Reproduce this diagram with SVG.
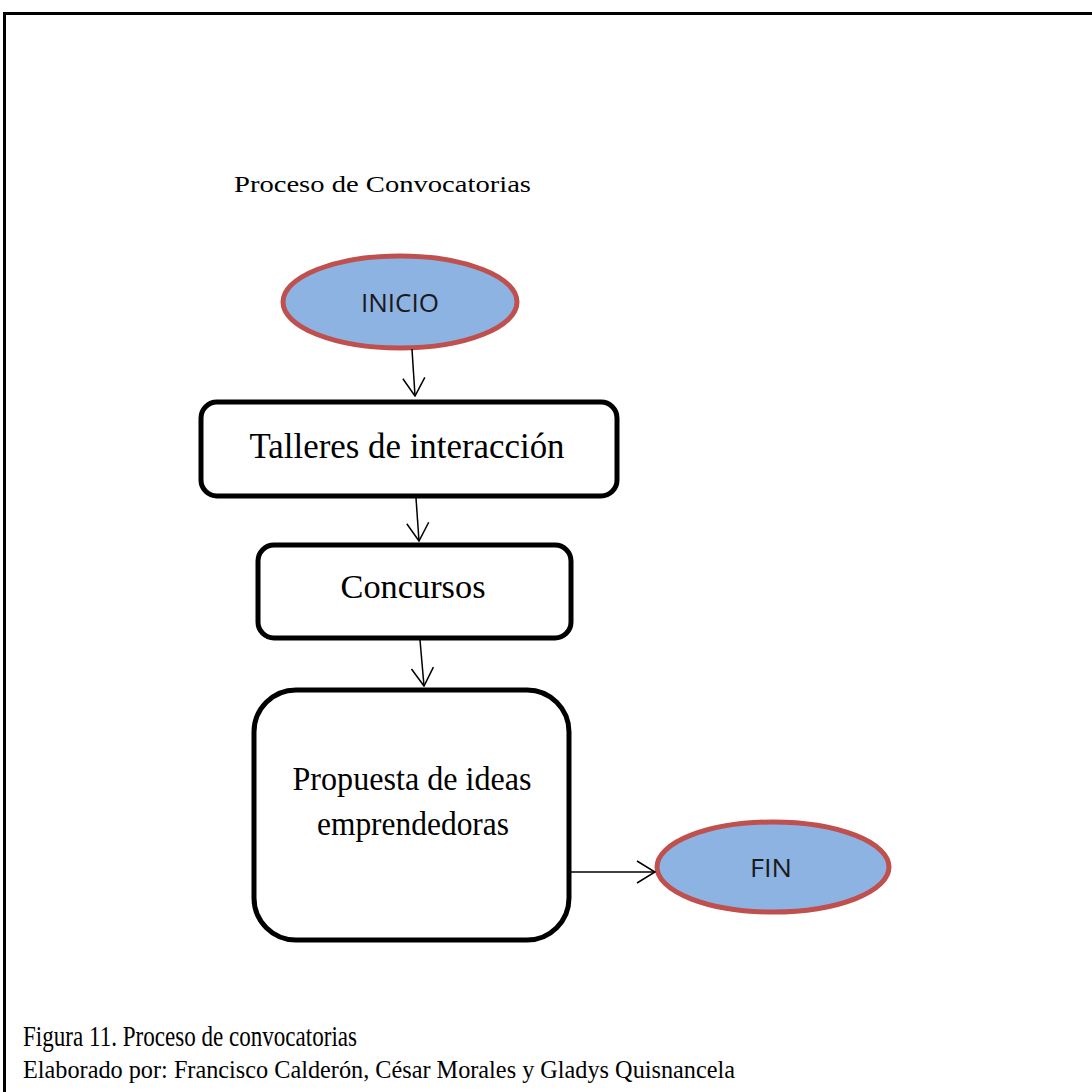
<svg xmlns="http://www.w3.org/2000/svg" width="1092" height="1092" viewBox="0 0 1092 1092">
<style>
.serif{font-family:"Liberation Serif","Times New Roman",serif;fill:#000}
.sans{font-family:"Open Sans","Noto Sans","Liberation Sans",sans-serif;fill:#1a1a1a}
.ell{fill:#8DB3E2;stroke:#C0504D;stroke-width:5}
.box{fill:#fff;stroke:#000;stroke-width:5}
.conn{stroke:#000;stroke-width:1.5;fill:none}
</style>
<defs>
<marker id="arr" viewBox="0 0 20 24" refX="19" refY="12" markerWidth="20" markerHeight="24" markerUnits="userSpaceOnUse" orient="auto">
<path d="M1,1 L19,12 L1,23" fill="none" stroke="#000" stroke-width="1.5"/>
</marker>
</defs>
<rect width="1092" height="1092" fill="#fff"/>
<path d="M4.5,1092 V13.5 H1092" fill="none" stroke="#000" stroke-width="3"/>
<text class="serif" x="234" y="192" font-size="23" textLength="297" lengthAdjust="spacingAndGlyphs">Proceso de Convocatorias</text>
<g id="inicio">
<ellipse class="ell" cx="400" cy="302" rx="117" ry="46"/>
<text class="sans" x="400" y="312" font-size="26" text-anchor="middle" textLength="78" lengthAdjust="spacingAndGlyphs">INICIO</text>
</g>
<g id="talleres">
<rect class="box" x="201" y="402" width="416" height="94" rx="16"/>
<text class="serif" x="407" y="458" font-size="35" text-anchor="middle" textLength="315" lengthAdjust="spacingAndGlyphs">Talleres de interacción</text>
</g>
<g id="concursos">
<rect class="box" x="258" y="545" width="313" height="93" rx="16"/>
<text class="serif" x="413" y="598" font-size="34" text-anchor="middle" textLength="145" lengthAdjust="spacingAndGlyphs">Concursos</text>
</g>
<g id="propuesta">
<rect class="box" x="254" y="690" width="315" height="250" rx="42"/>
<text class="serif" x="412" y="790" font-size="33" text-anchor="middle" textLength="239" lengthAdjust="spacingAndGlyphs">Propuesta de ideas</text>
<text class="serif" x="413" y="835" font-size="33" text-anchor="middle" textLength="192" lengthAdjust="spacingAndGlyphs">emprendedoras</text>
</g>
<g id="fin">
<ellipse class="ell" cx="773" cy="867" rx="116" ry="45"/>
<text class="sans" x="771" y="877" font-size="26" text-anchor="middle" textLength="42" lengthAdjust="spacingAndGlyphs">FIN</text>
</g>
<g id="connectors">
<line class="conn" x1="412" y1="349" x2="415" y2="396" marker-end="url(#arr)"/>
<line class="conn" x1="416" y1="498" x2="419" y2="541" marker-end="url(#arr)"/>
<line class="conn" x1="420" y1="640" x2="424" y2="686" marker-end="url(#arr)"/>
<line class="conn" x1="570" y1="872" x2="655" y2="872" marker-end="url(#arr)"/>
</g>
<text class="serif" x="23" y="1046" font-size="29" textLength="334" lengthAdjust="spacingAndGlyphs">Figura 11. Proceso de convocatorias</text>
<text class="serif" x="23" y="1078" font-size="26" textLength="712" lengthAdjust="spacingAndGlyphs">Elaborado por: Francisco Calderón, César Morales y Gladys Quisnancela</text>
</svg>
